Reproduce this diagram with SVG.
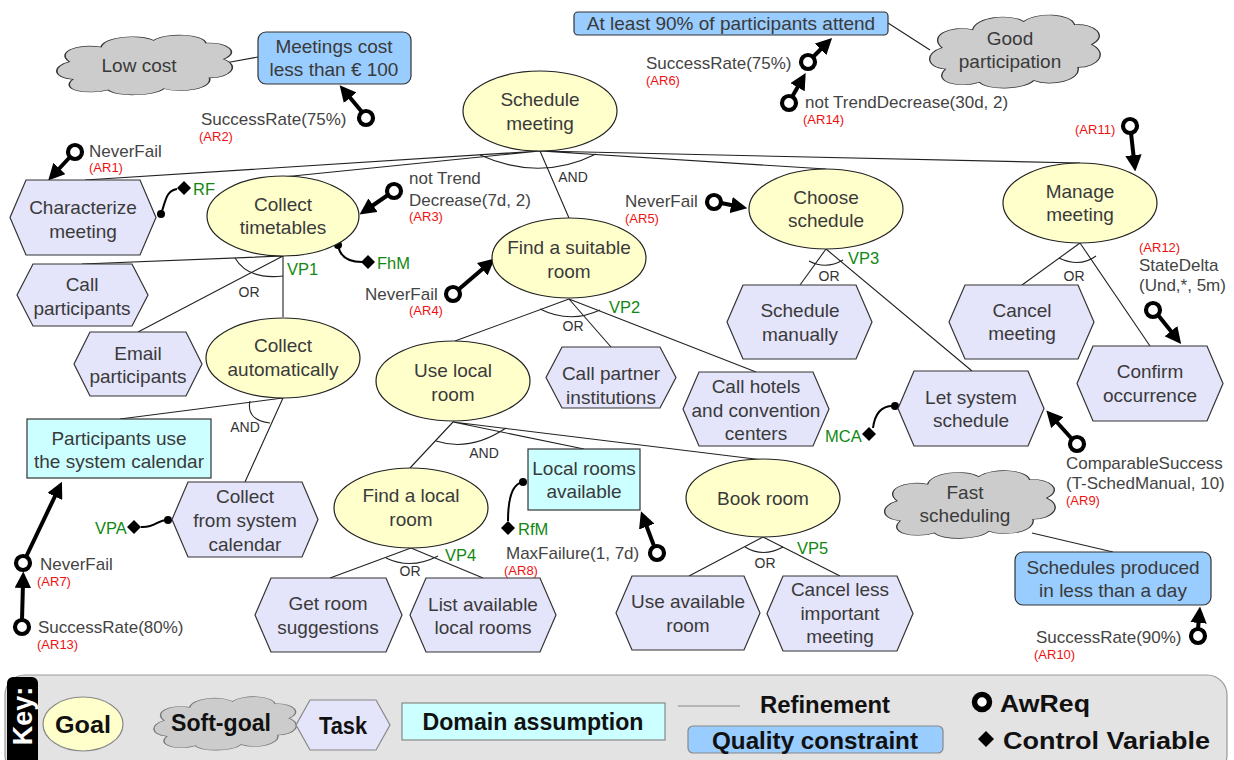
<svg xmlns="http://www.w3.org/2000/svg" width="1234" height="760" viewBox="0 0 1234 760">
<style>
text{font-family:"Liberation Sans",Arial,sans-serif;fill:#3a3a3a}
.n{font-size:19px;text-anchor:middle}
.s{font-size:17px;fill:#444}
.r{font-size:13px;fill:#ee1111}
.g{font-size:16.5px;fill:#118811}
.op{font-size:14px;text-anchor:middle;fill:#333}
.goal{fill:#ffffcc;stroke:#222;stroke-width:1.2}
.task{fill:#e4e4fa;stroke:#333;stroke-width:1.2}
.da{fill:#ccffff;stroke:#333;stroke-width:1.2}
.qc{fill:#99ccff;stroke:#333;stroke-width:1.2}
.soft{fill:#cccccc;stroke:#333;stroke-width:1.2}
.e{stroke:#222;stroke-width:1.1;fill:none}
.aw{stroke:#000;stroke-width:4;fill:none;marker-end:url(#ah)}
.ring{fill:#fff;stroke:#000;stroke-width:4.2}
.cv{stroke:#000;stroke-width:2;fill:none}
.k{font-weight:bold;fill:#111;font-size:24px}
</style>
<defs>
<marker id="ah" viewBox="0 0 10 10" refX="3" refY="5" markerWidth="4.1" markerHeight="4.1" orient="auto">
<path d="M0,0 L10,5 L0,10 z" fill="#000"/>
</marker>
<path id="cloud" d="M12,72 C0,70 0,52 10,46 C2,32 14,18 28,24 C30,8 50,4 58,14 C66,2 86,4 88,18 C100,16 108,32 98,42 C108,52 102,70 90,70 C92,86 74,94 64,86 C58,98 36,98 32,88 C20,96 4,88 12,72 Z"/>
</defs>

<g id="connectors">
<path class="e" d="M540,151 L85,180 M540,151 L283,177 M540,151 L569,218 M540,151 L826,169 M540,151 L1080,163"/>
<path class="e" d="M480,155 Q540,182 596,154"/>
<path class="e" d="M283,256 L82,264 M283,256 L138,332 M283,256 L283,317"/>
<path class="e" d="M235,258 Q248,280 283,276"/>
<path class="e" d="M283,398 L120,419 M283,398 L245,482"/>
<path class="e" d="M250,401 Q246,420 270,423"/>
<path class="e" d="M569,299 L455,341 M569,299 L611,347 M569,299 L756,372"/>
<path class="e" d="M540,309 Q570,324 600,310"/>
<path class="e" d="M453,422 L410,468 M453,422 L584,449 M453,422 L763,460"/>
<path class="e" d="M436,441 Q470,452 506,428"/>
<path class="e" d="M411,548 L330,578 M411,548 L483,578"/>
<path class="e" d="M386,558 Q411,570 438,556"/>
<path class="e" d="M763,537 L689,576 M763,537 L840,576"/>
<path class="e" d="M745,547 Q763,558 783,547"/>
<path class="e" d="M826,249 L800,285 M826,249 L972,371"/>
<path class="e" d="M809,261 Q826,270 843,260"/>
<path class="e" d="M1080,243 L1022,285 M1080,243 L1150,346"/>
<path class="e" d="M1059,258 Q1080,268 1096,256"/>
<path class="e" d="M225,63 L258,57 M888,23 L930,50 M1032,533 L1113,552"/>
<!-- AwReq arrows -->
<path class="aw" d="M70,157 L56,172"/>
<path class="aw" d="M362,112 L347,94"/>
<path class="aw" d="M388,195 L369,208"/>
<path class="aw" d="M458,290 L486,266"/>
<path class="aw" d="M721,203 L736,206"/>
<path class="aw" d="M813,57 L824,46"/>
<path class="aw" d="M792,97 L800,83"/>
<path class="aw" d="M26,557 L57,492"/>
<path class="aw" d="M22,620 L23,583"/>
<path class="aw" d="M654,546 L645,522"/>
<path class="aw" d="M1072,439 L1054,419"/>
<path class="aw" d="M1198,629 L1199,618"/>
<path class="aw" d="M1131,133 L1134,160"/>
<path class="aw" d="M1158,315 L1174,335"/>
<!-- control variable links -->
<path class="cv" d="M161,214 C166,200 166,191 177,189"/>
<path class="cv" d="M338,245 C340,258 350,262 362,262"/>
<path class="cv" d="M168,520 C158,519 156,528 141,527"/>
<path class="cv" d="M895,406 C882,405 875,412 873,428"/>
<path class="cv" d="M523,482 C510,484 508,505 508,521"/>
</g>

<g id="awreqs">
<circle class="ring" cx="75" cy="152" r="7"/>
<circle class="ring" cx="366" cy="118" r="7"/>
<circle class="ring" cx="394" cy="191" r="7"/>
<circle class="ring" cx="453" cy="294" r="7"/>
<circle class="ring" cx="714" cy="202" r="7"/>
<circle class="ring" cx="808" cy="62" r="7"/>
<circle class="ring" cx="789" cy="103" r="7"/>
<circle class="ring" cx="23" cy="563" r="7"/>
<circle class="ring" cx="22" cy="627" r="7"/>
<circle class="ring" cx="657" cy="553" r="7"/>
<circle class="ring" cx="1077" cy="444" r="7"/>
<circle class="ring" cx="1198" cy="636" r="7"/>
<circle class="ring" cx="1130" cy="126" r="7"/>
<circle class="ring" cx="1153" cy="310" r="7"/>
</g>

<g id="controlvars" fill="#000">
<circle cx="161" cy="214" r="4"/><polygon points="184,181 191,188 184,195 177,188"/>
<circle cx="338" cy="245" r="4"/><polygon points="368,255 375,262 368,269 361,262"/>
<circle cx="168" cy="520" r="4"/><polygon points="134,520 141,527 134,534 127,527"/>
<circle cx="895" cy="406" r="4"/><polygon points="869,427 876,434 869,441 862,434"/>
<circle cx="523" cy="482" r="4"/><polygon points="508,521 515,528 508,535 501,528"/>
</g>

<g id="labels">
<text class="s" x="201" y="125">SuccessRate(75%)</text><text class="r" x="199" y="141">(AR2)</text>
<text class="s" x="89" y="157">NeverFail</text><text class="r" x="89" y="172">(AR1)</text>
<text class="s" x="409" y="184">not Trend</text><text class="s" x="409" y="206">Decrease(7d, 2)</text><text class="r" x="409" y="221">(AR3)</text>
<text class="s" x="365" y="300">NeverFail</text><text class="r" x="409" y="315">(AR4)</text>
<text class="s" x="625" y="207">NeverFail</text><text class="r" x="625" y="223">(AR5)</text>
<text class="s" x="646" y="69">SuccessRate(75%)</text><text class="r" x="646" y="85">(AR6)</text>
<text class="s" x="805" y="108">not TrendDecrease(30d, 2)</text><text class="r" x="803" y="124">(AR14)</text>
<text class="r" x="1075" y="134">(AR11)</text>
<text class="r" x="1139" y="252">(AR12)</text><text class="s" x="1139" y="271">StateDelta</text><text class="s" x="1139" y="291">(Und,*, 5m)</text>
<text class="s" x="1066" y="469">ComparableSuccess</text><text class="s" x="1066" y="489">(T-SchedManual, 10)</text><text class="r" x="1066" y="505">(AR9)</text>
<text class="s" x="506" y="559">MaxFailure(1, 7d)</text><text class="r" x="504" y="575">(AR8)</text>
<text class="s" x="1036" y="643">SuccessRate(90%)</text><text class="r" x="1034" y="659">(AR10)</text>
<text class="s" x="40" y="570">NeverFail</text><text class="r" x="37" y="586">(AR7)</text>
<text class="s" x="38" y="633">SuccessRate(80%)</text><text class="r" x="37" y="649">(AR13)</text>
<text class="g" x="193" y="195">RF</text>
<text class="g" x="377" y="269">FhM</text>
<text class="g" x="287" y="275">VP1</text>
<text class="g" x="609" y="313">VP2</text>
<text class="g" x="848" y="264">VP3</text>
<text class="g" x="445" y="561">VP4</text>
<text class="g" x="797" y="554">VP5</text>
<text class="g" x="95" y="534">VPA</text>
<text class="g" x="825" y="442">MCA</text>
<text class="g" x="518" y="535">RfM</text>
<text class="op" x="573" y="182">AND</text>
<text class="op" x="249" y="297">OR</text>
<text class="op" x="245" y="432">AND</text>
<text class="op" x="573" y="331">OR</text>
<text class="op" x="484" y="458">AND</text>
<text class="op" x="410" y="576">OR</text>
<text class="op" x="765" y="568">OR</text>
<text class="op" x="829" y="281">OR</text>
<text class="op" x="1074" y="281">OR</text>
</g>

<g id="n-lowcost"><use href="#cloud" class="soft" transform="translate(52,31) scale(1.75,0.67)" style="stroke-width:0.9"/><text class="n" x="139" y="72">Low cost</text></g>
<g id="n-cost100"><rect class="qc" x="258" y="32" width="153" height="52" rx="8"/><text class="n" x="334" y="53">Meetings cost</text><text class="n" x="334" y="76">less than € 100</text></g>
<g id="n-attend"><rect class="qc" x="574" y="12" width="314" height="23" rx="4"/><text class="n" x="731" y="30">At least 90% of participants attend</text></g>
<g id="n-goodpart"><use href="#cloud" class="soft" transform="translate(925,10) scale(1.70,0.82)" style="stroke-width:0.8"/><text class="n" x="1010" y="45">Good</text><text class="n" x="1010" y="68">participation</text></g>
<g id="n-schedule"><ellipse class="goal" cx="540" cy="111" rx="77" ry="40"/><text class="n" x="540" y="106">Schedule</text><text class="n" x="540" y="130">meeting</text></g>
<g id="n-characterize"><polygon class="task" points="26,180 140,180 156,217.5 140,255 26,255 10,217.5"/><text class="n" x="83" y="214">Characterize</text><text class="n" x="83" y="238">meeting</text></g>
<g id="n-collecttt"><ellipse class="goal" cx="283" cy="216" rx="76" ry="40"/><text class="n" x="283" y="211">Collect</text><text class="n" x="283" y="234">timetables</text></g>
<g id="n-callpart"><polygon class="task" points="33,264 132,264 148,295 132,326 33,326 17,295"/><text class="n" x="82" y="291">Call</text><text class="n" x="82" y="315">participants</text></g>
<g id="n-emailpart"><polygon class="task" points="90,332 186,332 202,364 186,396 90,396 74,364"/><text class="n" x="138" y="360">Email</text><text class="n" x="138" y="383">participants</text></g>
<g id="n-collectauto"><ellipse class="goal" cx="283" cy="358" rx="77" ry="40"/><text class="n" x="283" y="352">Collect</text><text class="n" x="283" y="376">automatically</text></g>
<g id="n-partuse"><rect class="da" x="27" y="419" width="184" height="59"/><text class="n" x="119" y="445">Participants use</text><text class="n" x="119" y="468">the system calendar</text></g>
<g id="n-collectsys"><polygon class="task" points="188,482 302,482 318,519.5 302,557 188,557 172,519.5"/><text class="n" x="245" y="503">Collect</text><text class="n" x="245" y="527">from system</text><text class="n" x="245" y="551">calendar</text></g>
<g id="n-findroom"><ellipse class="goal" cx="569" cy="258" rx="77" ry="40"/><text class="n" x="569" y="254">Find a suitable</text><text class="n" x="569" y="278">room</text></g>
<g id="n-uselocal"><ellipse class="goal" cx="453" cy="381" rx="77" ry="40"/><text class="n" x="453" y="377">Use local</text><text class="n" x="453" y="401">room</text></g>
<g id="n-callpartner"><polygon class="task" points="562,347 660,347 676,377.5 660,408 562,408 546,377.5"/><text class="n" x="611" y="380">Call partner</text><text class="n" x="611" y="404">institutions</text></g>
<g id="n-callhotels"><polygon class="task" points="699,372 813,372 829,409 813,446 699,446 683,409"/><text class="n" x="756" y="393">Call hotels</text><text class="n" x="756" y="417">and convention</text><text class="n" x="756" y="440">centers</text></g>
<g id="n-findlocal"><ellipse class="goal" cx="411" cy="508" rx="77" ry="40"/><text class="n" x="411" y="502">Find a local</text><text class="n" x="411" y="526">room</text></g>
<g id="n-localavail"><rect class="da" x="528" y="449" width="112" height="61"/><text class="n" x="584" y="475">Local rooms</text><text class="n" x="584" y="498">available</text></g>
<g id="n-bookroom"><ellipse class="goal" cx="763" cy="498" rx="77" ry="39"/><text class="n" x="763" y="505">Book room</text></g>
<g id="n-getroom"><polygon class="task" points="271,578 386,578 402,615 386,652 271,652 255,615"/><text class="n" x="328" y="610">Get room</text><text class="n" x="328" y="634">suggestions</text></g>
<g id="n-listavail"><polygon class="task" points="426,578 540,578 556,615 540,652 426,652 410,615"/><text class="n" x="483" y="611">List available</text><text class="n" x="483" y="634">local rooms</text></g>
<g id="n-useavail"><polygon class="task" points="632,576 744,576 760,613 744,650 632,650 616,613"/><text class="n" x="688" y="608">Use available</text><text class="n" x="688" y="632">room</text></g>
<g id="n-cancelless"><polygon class="task" points="783,576 897,576 913,613.5 897,651 783,651 767,613.5"/><text class="n" x="840" y="596">Cancel less</text><text class="n" x="840" y="620">important</text><text class="n" x="840" y="643">meeting</text></g>
<g id="n-choose"><ellipse class="goal" cx="826" cy="209" rx="77" ry="40"/><text class="n" x="826" y="204">Choose</text><text class="n" x="826" y="227">schedule</text></g>
<g id="n-schedman"><polygon class="task" points="743,285 856,285 872,322 856,359 743,359 727,322"/><text class="n" x="800" y="317">Schedule</text><text class="n" x="800" y="341">manually</text></g>
<g id="n-letsys"><polygon class="task" points="914,371 1028,371 1044,408.5 1028,446 914,446 898,408.5"/><text class="n" x="971" y="404">Let system</text><text class="n" x="971" y="427">schedule</text></g>
<g id="n-manage"><ellipse class="goal" cx="1080" cy="203" rx="77" ry="40"/><text class="n" x="1080" y="198">Manage</text><text class="n" x="1080" y="221">meeting</text></g>
<g id="n-cancel"><polygon class="task" points="965,285 1078,285 1094,322 1078,359 965,359 949,322"/><text class="n" x="1022" y="317">Cancel</text><text class="n" x="1022" y="340">meeting</text></g>
<g id="n-confirm"><polygon class="task" points="1093,346 1207,346 1223,383.5 1207,421 1093,421 1077,383.5"/><text class="n" x="1150" y="378">Confirm</text><text class="n" x="1150" y="402">occurrence</text></g>
<g id="n-fast"><use href="#cloud" class="soft" transform="translate(880,466) scale(1.70,0.76)" style="stroke-width:0.8"/><text class="n" x="965" y="499">Fast</text><text class="n" x="965" y="522">scheduling</text></g>
<g id="n-schedday"><rect class="qc" x="1015" y="552" width="196" height="53" rx="8"/><text class="n" x="1113" y="574">Schedules produced</text><text class="n" x="1113" y="597">in less than a day</text></g>

<g id="legend">
<rect x="5" y="675" width="1222" height="100" rx="20" fill="#e3e3e3" stroke="#999" stroke-width="1.2"/>
<rect x="7" y="677" width="31" height="95" rx="6" fill="#000"/>
<text transform="translate(32,716) rotate(-90)" text-anchor="middle" style="font-weight:bold;font-size:27px;fill:#fff">Key:</text>
<ellipse class="goal" cx="83" cy="724" rx="40" ry="27" style="stroke:#888"/>
<text class="k" x="83" y="733" text-anchor="middle" textLength="56" lengthAdjust="spacingAndGlyphs">Goal</text>
<use href="#cloud" class="soft" transform="translate(150,693) scale(1.42,0.60)" style="stroke:#777;stroke-width:1"/>
<text class="k" x="221" y="731" text-anchor="middle" textLength="100" lengthAdjust="spacingAndGlyphs">Soft-goal</text>
<polygon class="task" points="310,700 376,700 390,725 376,750 310,750 296,725" style="stroke:#888"/>
<text class="k" x="343" y="734" text-anchor="middle" textLength="48" lengthAdjust="spacingAndGlyphs">Task</text>
<rect class="da" x="402" y="703" width="263" height="37" style="stroke:#888"/>
<text class="k" x="533" y="730" text-anchor="middle" textLength="221" lengthAdjust="spacingAndGlyphs">Domain assumption</text>
<line x1="678" y1="706" x2="740" y2="706" stroke="#888" stroke-width="1"/>
<text class="k" x="760" y="713" textLength="130" lengthAdjust="spacingAndGlyphs">Refinement</text>
<rect class="qc" x="688" y="726" width="255" height="27" rx="5" style="stroke:#888"/>
<text class="k" x="815" y="749" text-anchor="middle" textLength="206" lengthAdjust="spacingAndGlyphs">Quality constraint</text>
<circle cx="982" cy="702" r="7.5" fill="#fff" stroke="#000" stroke-width="5.5"/>
<text class="k" x="1000" y="712" textLength="90" lengthAdjust="spacingAndGlyphs">AwReq</text>
<polygon points="986,731 994,739 986,747 978,739" fill="#000"/>
<text class="k" x="1003" y="749" textLength="207" lengthAdjust="spacingAndGlyphs">Control Variable</text>
</g>
</svg>
